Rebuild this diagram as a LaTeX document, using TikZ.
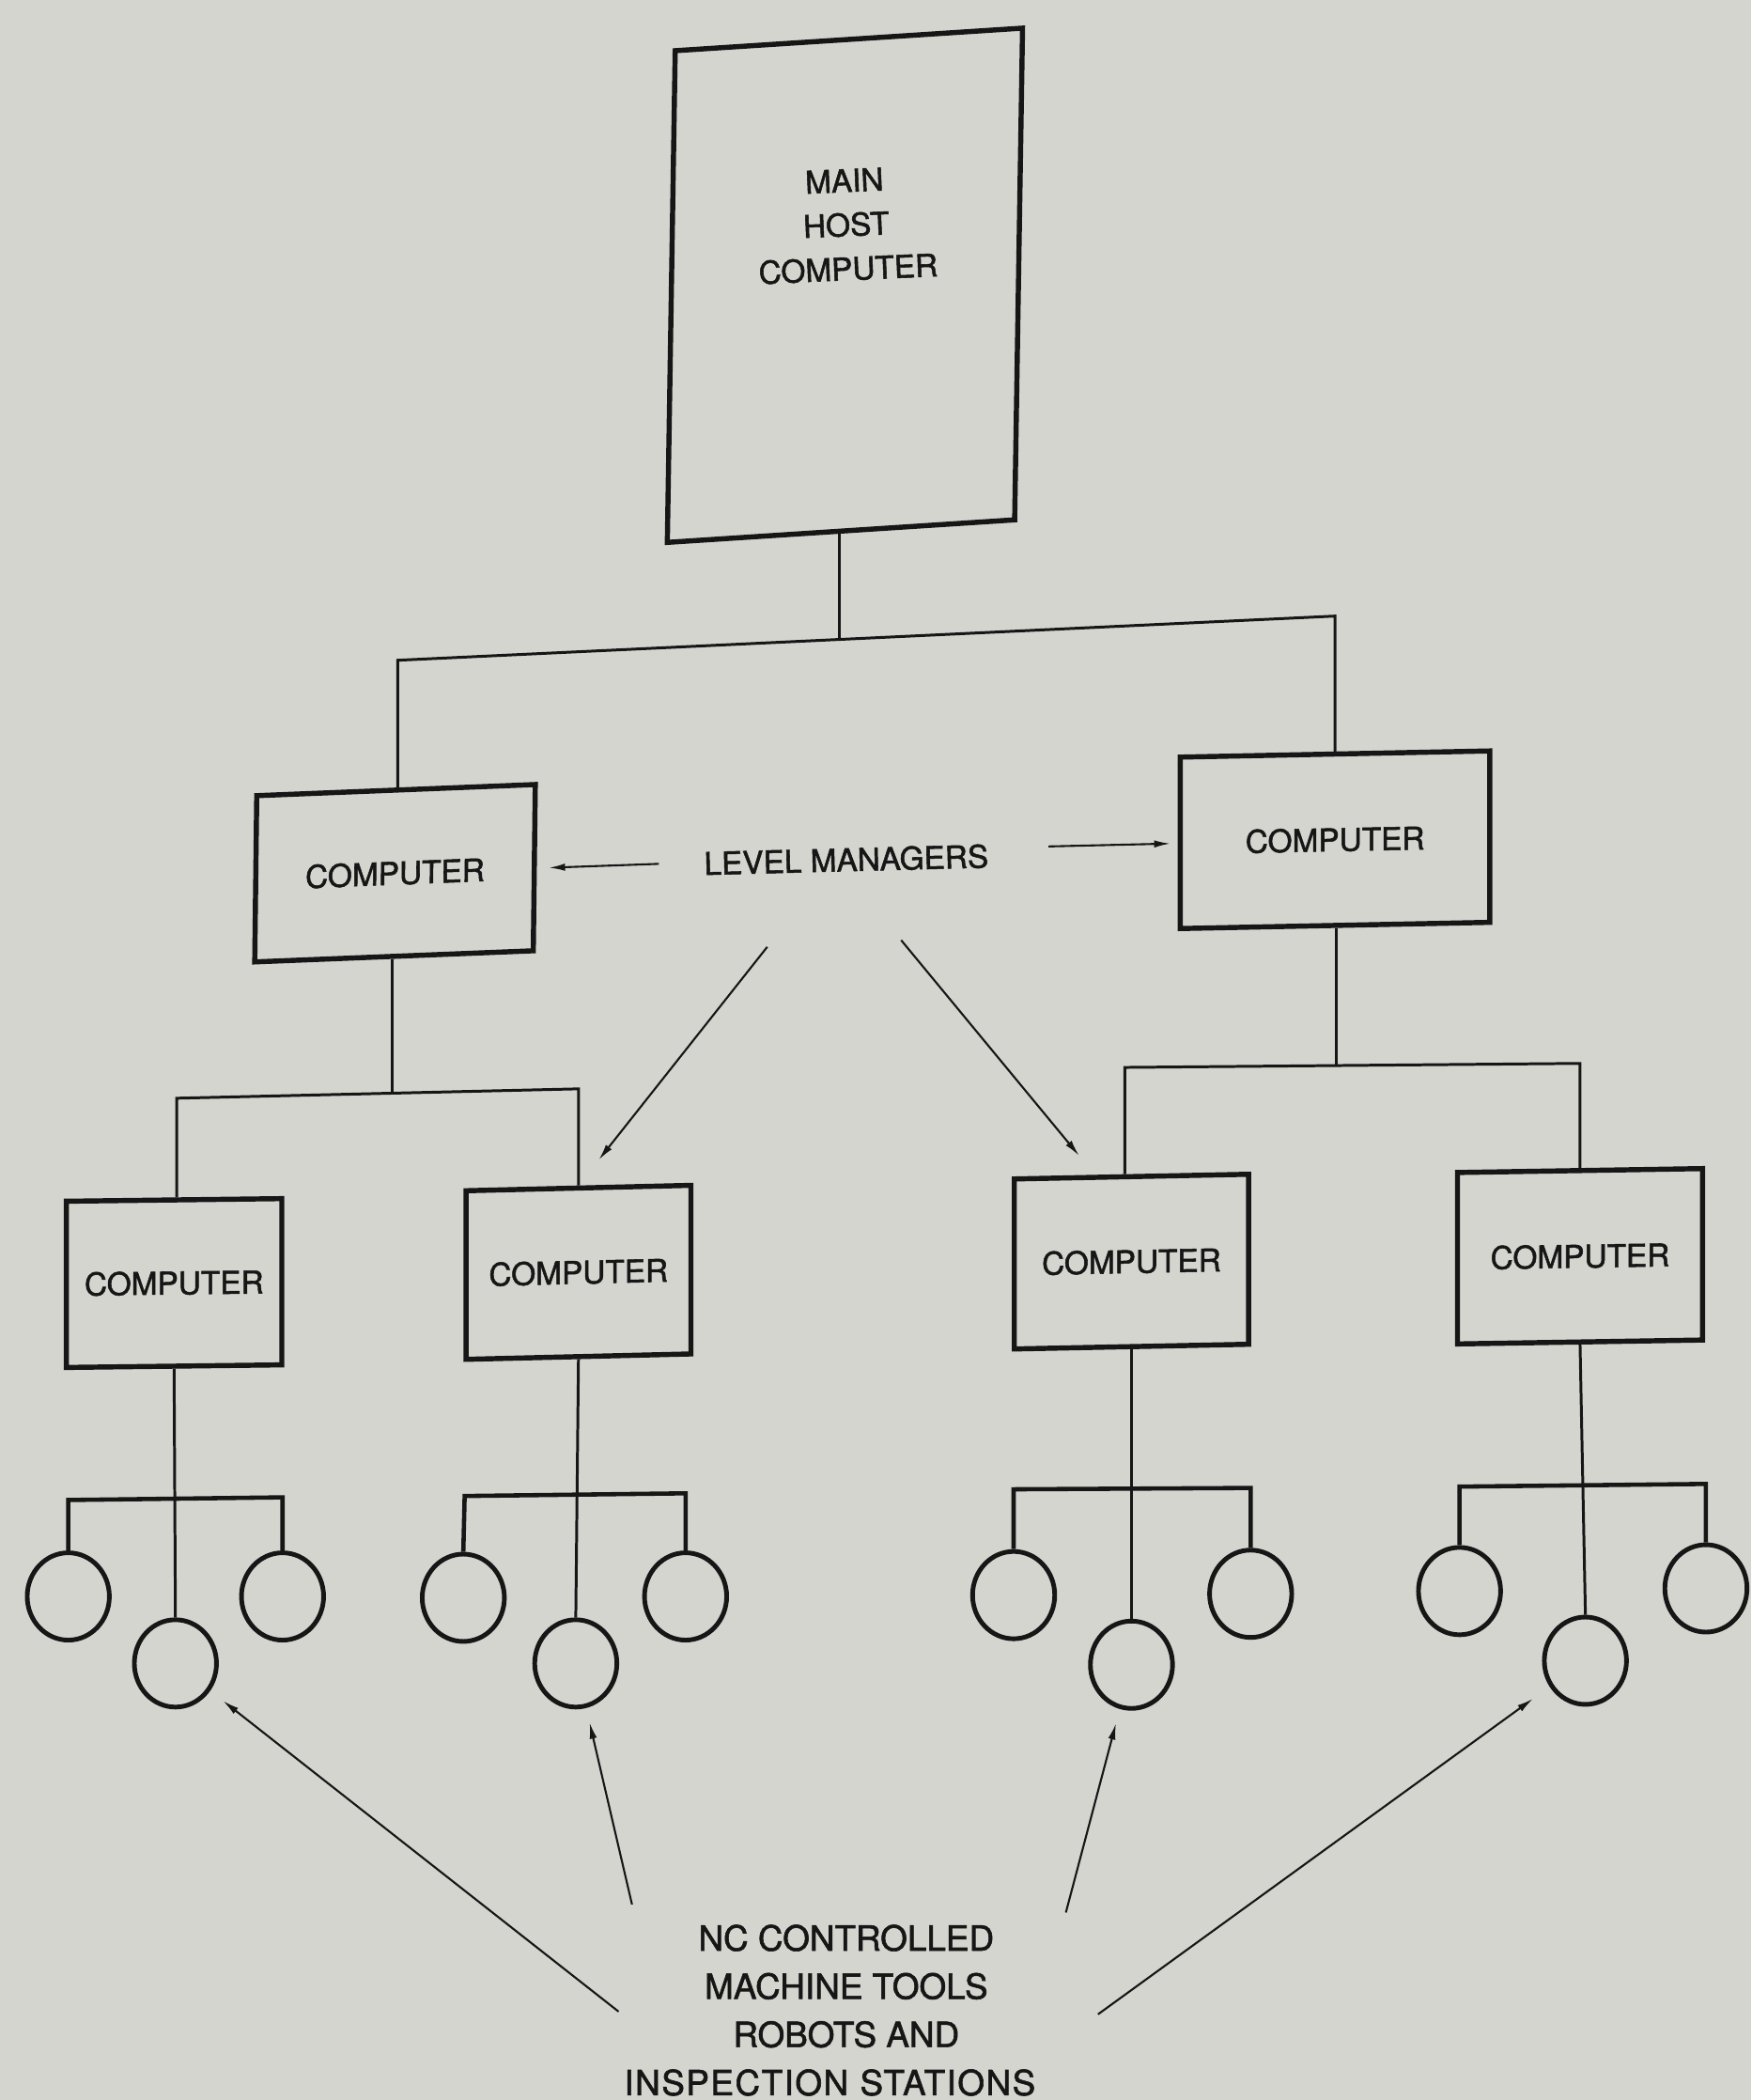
\documentclass[tikz,border=0pt]{standalone}
\usepackage{fontspec}
\setmainfont{TeX Gyre Heros}[FakeBold=1.6]
\usetikzlibrary{shapes.geometric,arrows.meta}
\definecolor{bg}{RGB}{213,213,208}
\definecolor{ink}{RGB}{22,22,22}
\begin{document}
\begin{tikzpicture}[x=0.028517cm,y=-0.028517cm,
  box/.style={draw=ink, line width=3.1pt, inner sep=0pt, text=ink,
              font=\fontsize{19}{26.7}\selectfont},
  lbl/.style={text=ink, font=\fontsize{19}{26.7}\selectfont, align=center, inner sep=0pt},
  wire/.style={draw=ink, line width=1.7pt},
  bar/.style={draw=ink, line width=2.6pt},
  mach/.style={draw=ink, ellipse, line width=2.8pt, minimum width=1.75cm,
               minimum height=1.86cm, inner sep=0pt},
  arr/.style={draw=ink, line width=1.2pt, -{Latex[length=10pt,width=4.5pt]}}]
\fill[bg] (0,0) rectangle (1308,1568);
\useasboundingbox (0,0) rectangle (1308,1568);

% main host
\node[box, minimum width=7.39cm, minimum height=10.47cm, xslant=0.016, yslant=0.065] (host) at (631,213) {};
\node[lbl, rotate=2.5] (hosttxt) at (632,168) {MAIN\\HOST\\COMPUTER};

% level managers
\node[box, minimum width=5.93cm, minimum height=3.54cm, xslant=0.012, yslant=0.04] (lm) at (295,652) {COMPUTER};
\node[box, minimum width=6.59cm, minimum height=3.65cm, yslant=0.02] (rm) at (997,627) {COMPUTER};

% level 3 computers
\node[box, minimum width=4.59cm, minimum height=3.54cm, yslant=0.012] (LL) at (130,958) {COMPUTER};
\node[box, minimum width=4.79cm, minimum height=3.59cm, yslant=0.024] (LR) at (432,950) {COMPUTER};
\node[box, minimum width=4.99cm, minimum height=3.62cm, yslant=0.02] (RL) at (845,942) {COMPUTER};
\node[box, minimum width=5.22cm, minimum height=3.65cm, yslant=0.016] (RR) at (1180,938) {COMPUTER};

% machines
\node[mach] (c11) at (51,1192) {};
\node[mach] (c12) at (131,1242) {};
\node[mach] (c13) at (211,1192) {};
\node[mach] (c21) at (346,1193) {};
\node[mach] (c22) at (430,1242) {};
\node[mach] (c23) at (512,1192) {};
\node[mach] (c31) at (757,1191) {};
\node[mach] (c32) at (845,1243) {};
\node[mach] (c33) at (934,1190) {};
\node[mach] (c41) at (1090,1188) {};
\node[mach] (c42) at (1184,1240) {};
\node[mach] (c43) at (1274,1186) {};

% texts
\node[lbl, rotate=1.5] (lvl) at (632,642) {LEVEL MANAGERS};
\node[lbl, font=\fontsize{21}{29.2}\selectfont] (nc) at (632,1501)
  {NC CONTROLLED\\MACHINE TOOLS\\ROBOTS AND\\\hspace*{-0.7cm}{\addfontfeatures{LetterSpace=4}INSPECTION\,\,STATIONS}};

% top tree
\coordinate (j0) at (627,477);
\coordinate (tl) at (297,493);
\coordinate (tr) at (997,460);
\draw[wire] (j0) -- (j0 |- host.south);
\draw[wire] (tl |- lm.north) -- (tl) -- (tr) -- (tr |- rm.north);

% left manager subtree
\coordinate (jl) at (293,816);
\coordinate (ml) at (132,820);
\coordinate (mr) at (432,813);
\draw[wire] (jl |- lm.south) -- (jl);
\draw[wire] (ml |- LL.north) -- (ml) -- (mr) -- (mr |- LR.north);

% right manager subtree
\coordinate (jr) at (998,796);
\coordinate (nl) at (840,797);
\coordinate (nr) at (1180,794);
\draw[wire] (jr |- rm.south) -- (jr);
\draw[wire] (nl |- RL.north) -- (nl) -- (nr) -- (nr |- RR.north);

% machine groups
\coordinate (b1l) at (51,1120);  \coordinate (b1r) at (211,1118);
\coordinate (b2l) at (347,1117); \coordinate (b2r) at (512,1115);
\coordinate (b3l) at (757,1112); \coordinate (b3r) at (934,1111);
\coordinate (b4l) at (1090,1110);\coordinate (b4r) at (1274,1108);
\draw[wire] (LL.south) -- (c12.north);
\draw[wire] (LR.south) -- (c22.north);
\draw[wire] (RL.south) -- (c32.north);
\draw[wire] (RR.south) -- (c42.north);
\draw[bar] (c11.north) -- (b1l) -- (b1r) -- (c13.north);
\draw[bar] (c21.north) -- (b2l) -- (b2r) -- (c23.north);
\draw[bar] (c31.north) -- (b3l) -- (b3r) -- (c33.north);
\draw[bar] (c41.north) -- (b4l) -- (b4r) -- (c43.north);

% level manager arrows
\coordinate (la) at (492,645);
\coordinate (ra) at (783,632);
\coordinate (da) at (573,707);
\coordinate (db) at (673,702);
\coordinate (dbt) at (806,863);
\draw[arr, shorten >=0.25cm] (la) -- (lm);
\draw[arr, shorten >=0.15cm] (ra) -- (rm);
\draw[arr, shorten >=0.69cm] (da) -- (LR.north);
\draw[arr] (db) -- (dbt);

% NC arrows
\coordinate (n1) at (462,1502);
\coordinate (n2) at (472,1422);
\coordinate (n3) at (796,1428);
\coordinate (n4) at (820,1504);
\draw[arr, shorten >=0.34cm] (n1) -- (c12);
\draw[arr, shorten >=0.31cm] (n2) -- (c22);
\draw[arr, shorten >=0.31cm] (n3) -- (c32);
\draw[arr, shorten >=0.43cm] (n4) -- (c42);
\end{tikzpicture}
\end{document}
